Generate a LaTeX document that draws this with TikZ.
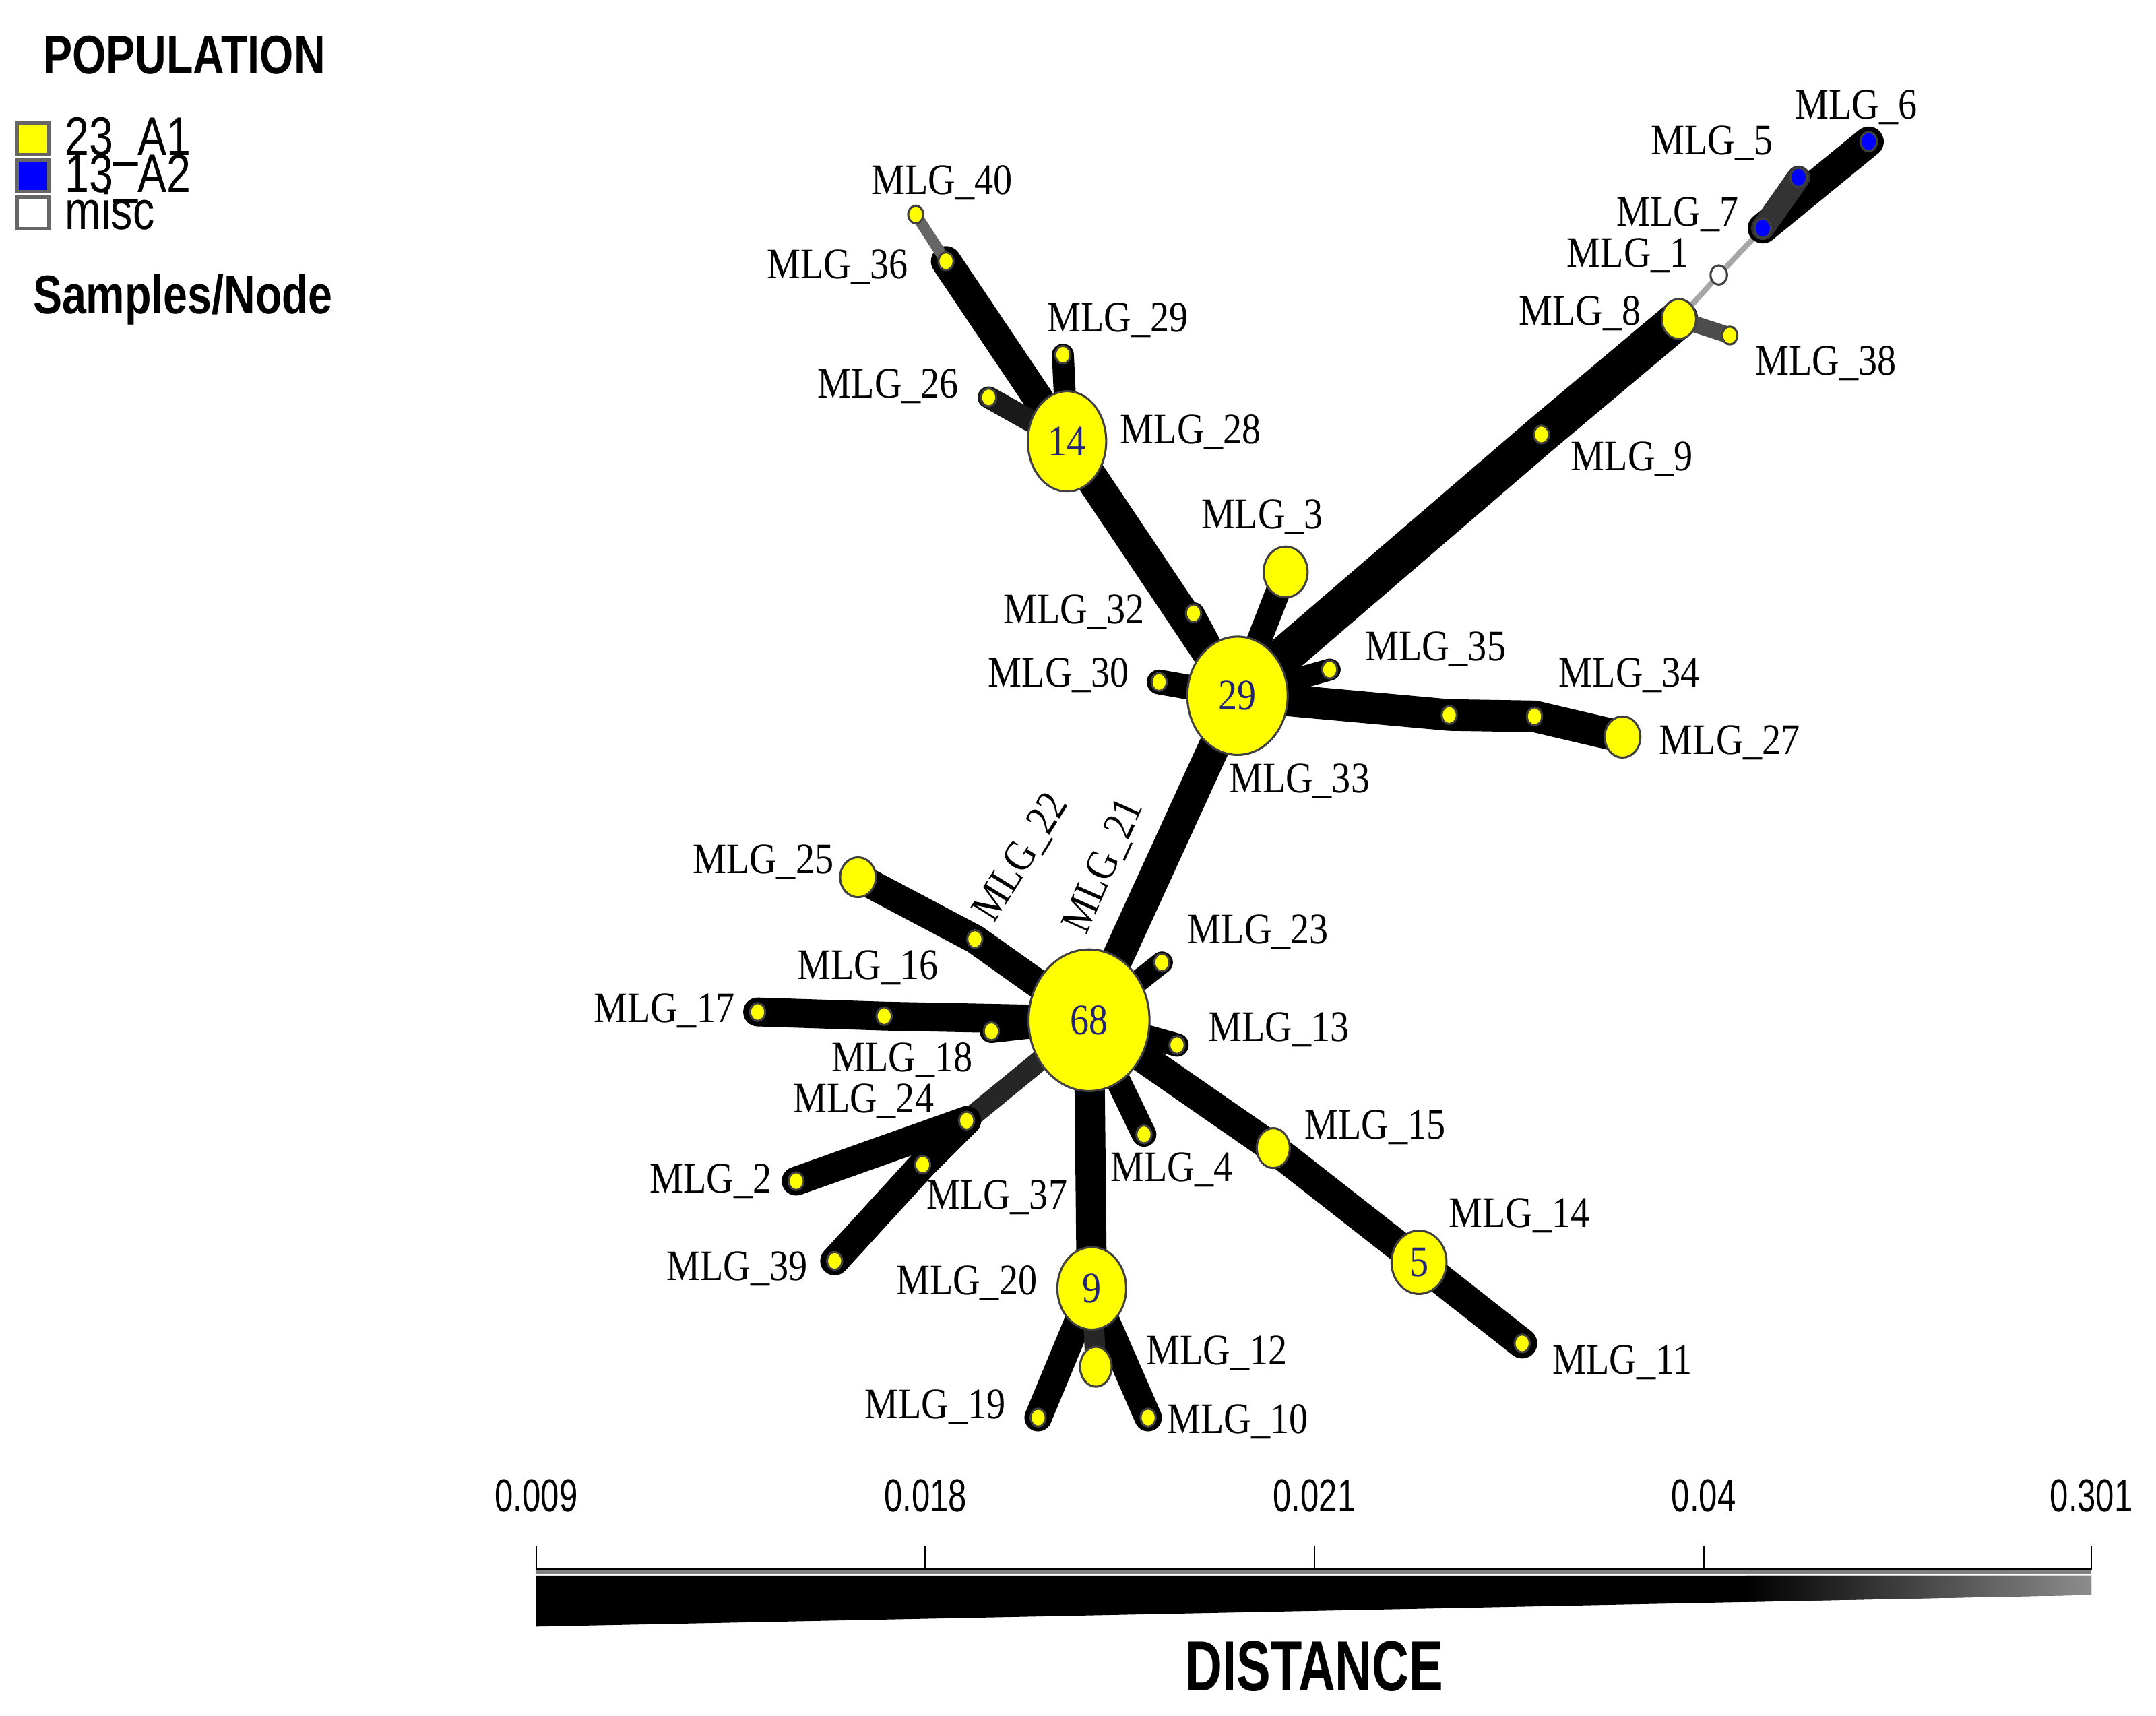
\documentclass[tikz,border=0pt]{standalone}
\usepackage{fontspec}
\usepackage{graphicx}
\setmainfont{Liberation Serif}
\setsansfont{Liberation Sans}
\usetikzlibrary{shapes.geometric,backgrounds}

\definecolor{PopAOne}{RGB}{255,255,0}
\definecolor{PopATwo}{RGB}{0,0,255}
\definecolor{SampleColor}{RGB}{35,35,120}

\newcommand{\mlgfont}{\fontsize{18}{20}\selectfont}
\newcommand{\legendfont}{\sffamily\fontsize{22.5}{24}\selectfont}
\newcommand{\tickfont}{\sffamily\fontsize{19}{20}\selectfont}
\newcommand{\lbl}[1]{\scalebox{0.87}[1]{MLG\_#1}}
\newcommand{\samples}[1]{\scalebox{0.87}[1]{\textcolor{SampleColor}{#1}}}
\newcommand{\narrow}[2]{\scalebox{#1}[1]{#2}}

\begin{document}
\begin{tikzpicture}[
		x=0.2mm, y=-0.2mm,
		mlg/.style={ellipse, draw=black!75, line width=0.3mm, fill=PopAOne, inner sep=0pt, font=\mlgfont, minimum width=2.2mm, minimum height=2.6mm},
		tag/.style={font=\mlgfont, inner sep=0pt},
		link/.style={draw=black, line width=#1, line cap=round},
		swatch/.style={draw=black!60, line width=0.5mm, minimum size=4.6mm, inner sep=0pt},
		legendtxt/.style={font=\legendfont, inner sep=0pt, anchor=base west},
		ticklabel/.style={font=\tickfont, inner sep=0pt}
	]
	\useasboundingbox (0,0) rectangle (1568,1248);

	% Legend
	\node[font=\legendfont\bfseries, inner sep=0pt] (pophead) at (134,40) {\narrow{0.8}{POPULATION}};
	\node[swatch, fill=PopAOne] (swA1) at (24,101) {};
	\node[swatch, fill=PopATwo] (swA2) at (24,128) {};
	\node[swatch, fill=white] (swmisc) at (24,155) {};
	\node[legendtxt] (txA1) at (47,113) {\narrow{0.8}{23\_A1}};
	\node[legendtxt] (txA2) at (47,140) {\narrow{0.8}{13\_A2}};
	\node[legendtxt] (txmisc) at (47,167) {\narrow{0.8}{misc}};
	\node[font=\legendfont\bfseries, inner sep=0pt] (samplehead) at (133,218) {\narrow{0.8}{Samples/Node}};

	% Nodes
	\node[mlg] (n40) at (666,156) {};
	\node[mlg] (n36) at (688,190) {};
	\node[mlg] (n29) at (773,258) {};
	\node[mlg] (n26) at (719,289) {};
	\node[mlg, minimum width=11.4mm, minimum height=14.6mm] (n28) at (776,321) {\samples{14}};
	\node[mlg, minimum width=6.4mm, minimum height=7.4mm] (n3) at (935,416) {};
	\node[mlg] (n32) at (868,446) {};
	\node[mlg, minimum width=14.6mm, minimum height=17.2mm] (n33) at (900,506) {\samples{29}};
	\node[mlg] (n30) at (843,496) {};
	\node[mlg] (n35) at (967,487) {};
	\node[mlg] (n31) at (1054,520) {};
	\node[mlg] (n34) at (1116,521) {};
	\node[mlg, minimum width=5.2mm, minimum height=6mm] (n27) at (1180,536) {};
	\node[mlg] (n9) at (1121,316) {};
	\node[mlg, minimum width=5mm, minimum height=5.8mm] (n8) at (1221,232) {};
	\node[mlg] (n38) at (1258,244) {};
	\node[mlg, fill=white, minimum width=2.4mm, minimum height=2.8mm] (n1) at (1250,200) {};
	\node[mlg, fill=PopATwo, minimum width=2.4mm, minimum height=2.8mm] (n7) at (1282,166) {};
	\node[mlg, fill=PopATwo, minimum width=2.4mm, minimum height=2.8mm] (n5) at (1308,129) {};
	\node[mlg, fill=PopATwo, minimum width=2.4mm, minimum height=2.8mm] (n6) at (1359,103) {};
	\node[mlg, minimum width=17.6mm, minimum height=20.6mm] (n21) at (792,742) {\samples{68}};
	\node[mlg] (n22) at (709,683) {};
	\node[mlg, minimum width=5.2mm, minimum height=5.8mm] (n25) at (624,638) {};
	\node[mlg] (n23) at (845,700) {};
	\node[mlg] (n17) at (551,736) {};
	\node[mlg] (n16) at (643,739) {};
	\node[mlg] (n18) at (721,750) {};
	\node[mlg] (n13) at (856,760) {};
	\node[mlg] (n24) at (703,815) {};
	\node[mlg] (n37) at (671,847) {};
	\node[mlg] (n2) at (579,859) {};
	\node[mlg] (n39) at (607,917) {};
	\node[mlg] (n4) at (832,825) {};
	\node[mlg, minimum width=4.8mm, minimum height=5.8mm] (n15) at (926,835) {};
	\node[mlg, minimum width=8mm, minimum height=9.2mm] (n14) at (1032,918) {\samples{5}};
	\node[mlg] (n11) at (1107,977) {};
	\node[mlg, minimum width=10mm, minimum height=12mm] (n20) at (794,937) {\samples{9}};
	\node[mlg, minimum width=4.6mm, minimum height=5.8mm] (n12) at (797,994) {};
	\node[mlg] (n19) at (755,1031) {};
	\node[mlg] (n10) at (835,1031) {};

	% Edges
	\begin{scope}[on background layer]
		\draw[link=4.8mm] (n33.center) -- (n28.center);
		\draw[link=4.4mm] (n28.center) -- (n36.center);
		\draw[link=1.6mm, draw=black!60] (n36.center) -- (n40.center);
		\draw[link=3.2mm] (n28.center) -- (n29.center);
		\draw[link=3.2mm, draw=black!90] (n28.center) -- (n26.center);
		\draw[link=3.2mm] (n33.center) -- (n32.center);
		\draw[link=3.6mm] (n33.center) -- (n3.center);
		\draw[link=3.6mm] (n33.center) -- (n30.center);
		\draw[link=3.2mm] (n33.center) -- (n35.center);
		\draw[link=4.6mm] (n33.center) -- (n31.center) -- (n34.center) -- (n27.center);
		\draw[link=5.6mm] (n33.center) -- (n9.center) -- (n8.center);
		\draw[link=2.4mm, draw=black!70] (n8.center) -- (n38.center);
		\draw[link=0.8mm, draw=black!35] (n8.center) -- (n1.center) -- (n7.center);
		\draw[link=4.4mm] (n7.center) -- (n6.center);
		\draw[link=3.4mm, draw=black!80] (n7.center) -- (n5.center);
		\draw[link=4.6mm] (n33.center) -- (n21.center);
		\draw[link=4.2mm] (n21.center) -- (n22.center) -- (n25.center);
		\draw[link=3.2mm] (n21.center) -- (n23.center);
		\draw[link=4.2mm] (n21.center) -- (n16.center) -- (n17.center);
		\draw[link=3.4mm] (n21.center) -- (n18.center);
		\draw[link=3.4mm] (n21.center) -- (n13.center);
		\draw[link=3mm, draw=black!85] (n21.center) -- (n24.center);
		\draw[link=4.2mm] (n24.center) -- (n2.center);
		\draw[link=4.2mm] (n24.center) -- (n37.center) -- (n39.center);
		\draw[link=3.6mm] (n21.center) -- (n4.center);
		\draw[link=4.4mm] (n21.center) -- (n15.center) -- (n14.center) -- (n11.center);
		\draw[link=4.4mm] (n21.center) -- (n20.center);
		\draw[link=4mm] (n20.center) -- (n19.center);
		\draw[link=4mm] (n20.center) -- (n10.center);
		\draw[link=3mm, draw=black!85] (n20.center) -- (n12.center);
	\end{scope}

	% Labels
	\node[tag] (l40) at (685,133) {\lbl{40}};
	\node[tag] (l36) at (609,194) {\lbl{36}};
	\node[tag] (l29) at (813,233) {\lbl{29}};
	\node[tag] (l26) at (646,281) {\lbl{26}};
	\node[tag] (l28) at (866,314) {\lbl{28}};
	\node[tag] (l3) at (918,376) {\lbl{3}};
	\node[tag] (l32) at (781,445) {\lbl{32}};
	\node[tag] (l30) at (770,491) {\lbl{30}};
	\node[tag] (l35) at (1044,472) {\lbl{35}};
	\node[tag] (l34) at (1185,491) {\lbl{34}};
	\node[tag] (l27) at (1258,540) {\lbl{27}};
	\node[tag] (l33) at (945,568) {\lbl{33}};
	\node[tag] (l9) at (1187,334) {\lbl{9}};
	\node[tag] (l8) at (1149,228) {\lbl{8}};
	\node[tag] (l38) at (1328,264) {\lbl{38}};
	\node[tag] (l1) at (1184,186) {\lbl{1}};
	\node[tag] (l7) at (1220,156) {\lbl{7}};
	\node[tag] (l5) at (1245,104) {\lbl{5}};
	\node[tag] (l6) at (1350,78) {\lbl{6}};
	\node[tag] (l25) at (555,627) {\lbl{25}};
	\node[tag, rotate=58] (l22) at (743,624) {\lbl{22}};
	\node[tag, rotate=66] (l21) at (803,630) {\lbl{21}};
	\node[tag] (l23) at (915,678) {\lbl{23}};
	\node[tag] (l16) at (631,704) {\lbl{16}};
	\node[tag] (l17) at (483,735) {\lbl{17}};
	\node[tag] (l13) at (930,749) {\lbl{13}};
	\node[tag] (l18) at (656,771) {\lbl{18}};
	\node[tag] (l24) at (628,801) {\lbl{24}};
	\node[tag] (l15) at (1000,820) {\lbl{15}};
	\node[tag] (l4) at (852,851) {\lbl{4}};
	\node[tag] (l2) at (517,859) {\lbl{2}};
	\node[tag] (l37) at (725,871) {\lbl{37}};
	\node[tag] (l14) at (1105,884) {\lbl{14}};
	\node[tag] (l39) at (536,923) {\lbl{39}};
	\node[tag] (l20) at (703,933) {\lbl{20}};
	\node[tag] (l12) at (885,984) {\lbl{12}};
	\node[tag] (l11) at (1180,991) {\lbl{11}};
	\node[tag] (l19) at (680,1023) {\lbl{19}};
	\node[tag] (l10) at (900,1034) {\lbl{10}};

	% Distance scale
	\foreach \x/\v [count=\i] in {390/0.009, 673/0.018, 956/0.021, 1239/0.04, 1521/0.301} {
		\node[ticklabel] (tick\i) at (\x,1088) {\narrow{0.72}{\v}};
		\draw[line width=0.25mm] (\x,1124) -- (\x,1142);
	}
	\draw[line width=0.6mm, black!50] (390,1143) -- (1521,1143);
	\draw[line width=0.25mm] (390,1141) -- (1521,1141);
	\fill[black] (390,1146) -- (1521,1146) -- (1521,1160) -- (390,1183) -- cycle;
	\begin{scope}
		\clip (390,1146) -- (1521,1146) -- (1521,1160) -- (390,1183) -- cycle;
		\shade[left color=black, right color=black!45] (1270,1140) rectangle (1521,1190);
	\end{scope}
	\node[font=\sffamily\bfseries\fontsize{29.4}{30}\selectfont, inner sep=0pt] (distance) at (956,1212) {\narrow{0.72}{DISTANCE}};

\end{tikzpicture}
\end{document}
